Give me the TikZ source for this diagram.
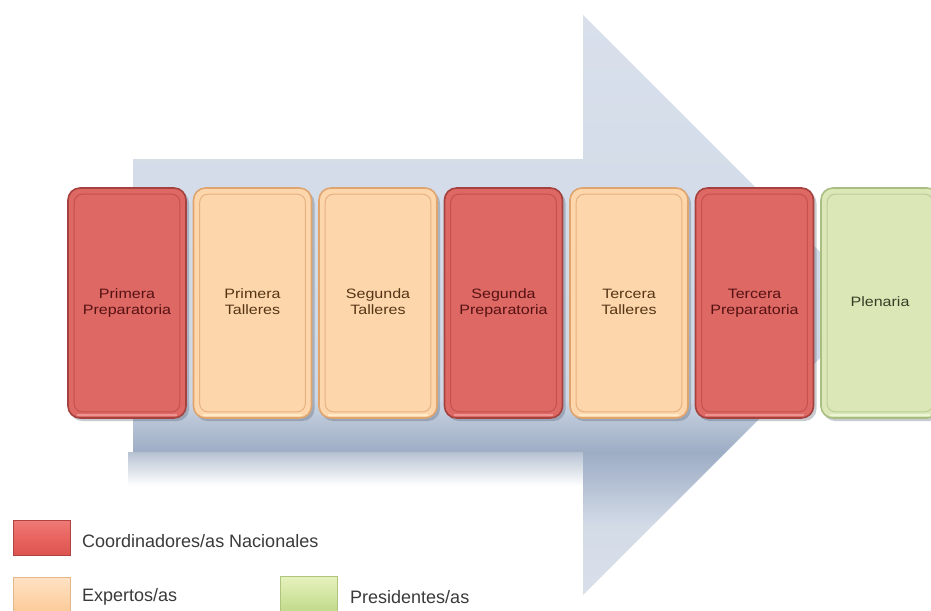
\documentclass[tikz,border=0pt]{standalone}
\usepackage{fontspec}
\setmainfont{Liberation Sans}
\usepackage{graphicx}
\usetikzlibrary{calc}
\definecolor{a1}{HTML}{D9E0EC}
\definecolor{a2}{HTML}{CED7E5}
\definecolor{a3}{HTML}{B3C0D3}
\definecolor{a4}{HTML}{9DADC4}
\definecolor{a5}{HTML}{B0BDD1}
\definecolor{a6}{HTML}{D3DBE7}
\definecolor{shadowc}{HTML}{B7C2D2}
\definecolor{boxshadow}{HTML}{4A5566}
\definecolor{cRedFill}{HTML}{DE6864}
\definecolor{cRedLine}{HTML}{A5423F}
\definecolor{cRedIn}{HTML}{C4524F}
\definecolor{cRedTxt}{HTML}{551212}
\definecolor{cPeachFill}{HTML}{FDD6AC}
\definecolor{cPeachLine}{HTML}{DFA56E}
\definecolor{cPeachIn}{HTML}{E6B281}
\definecolor{cPeachTxt}{HTML}{553514}
\definecolor{cGreenFill}{HTML}{DCE7B8}
\definecolor{cGreenLine}{HTML}{A9BE82}
\definecolor{cGreenIn}{HTML}{BCCD96}
\definecolor{cGreenTxt}{HTML}{363E24}
\definecolor{cRedHi}{HTML}{EE9490}
\definecolor{cPeachHi}{HTML}{FFEBC8}
\definecolor{cGreenHi}{HTML}{EEF5D6}
\definecolor{legtxt}{HTML}{3A3A3A}
\definecolor{sRedT}{HTML}{EE7A76}
\definecolor{sRedM}{HTML}{E8645F}
\definecolor{sRedB}{HTML}{DC5450}
\definecolor{sPeachT}{HTML}{FFE2C4}
\definecolor{sPeachB}{HTML}{FCCB98}
\definecolor{sGreenT}{HTML}{E6F2BE}
\definecolor{sGreenB}{HTML}{C2DA8A}
\pgfdeclareverticalshading{arrowsh}{100bp}{%
  color(0bp)=(a1); color(25bp)=(a1); color(31bp)=(a6); color(35bp)=(a5);
  color(37.3bp)=(a4); color(39.5bp)=(a3); color(42bp)=(a2); color(75bp)=(a1); color(100bp)=(a1)}
\newcommand\bt[1]{\scalebox{1.18}[1]{\begin{tabular}{@{}c@{}}#1\end{tabular}}}
\tikzset{
  box/.style={rounded corners=12pt, minimum width=118pt, minimum height=230pt,
    line width=1.6pt, inner sep=0pt, align=center,
    font=\fontsize{13.6}{16}\selectfont},
  redbox/.style={box, draw=cRedLine, fill=cRedFill, text=cRedTxt},
  peachbox/.style={box, draw=cPeachLine, fill=cPeachFill, text=cPeachTxt},
  greenbox/.style={box, draw=cGreenLine, fill=cGreenFill, text=cGreenTxt},
  shadowbox/.style={rounded corners=12pt, fill=boxshadow, opacity=0.3},
  legtext/.style={anchor=west, inner sep=0pt, font=\fontsize{18}{20}\selectfont, text=legtxt},
  swatch/.style={minimum width=57pt, minimum height=35pt, inner sep=0pt, anchor=north west}
}
\begin{document}
\begin{tikzpicture}[x=1pt,y=-1pt]
\useasboundingbox (0,0) rectangle (931,610);
\clip (0,0) rectangle (931,610);
\fill[white] (0,0) rectangle (931,610);
% shadow under the shaft
\shade[top color=shadowc, bottom color=white] (128,452) rectangle (583,486);
% arrow
\shade[shading=arrowsh] (133,159) -- (583,159) -- (583,15) -- (873,305)
  -- (583,595) -- (583,452) -- (133,452) -- cycle;
% boxes
\foreach \x in {127,252.5,378,503.5,629,754.5,880}
  \fill[shadowbox] (\x-57,191) rectangle (\x+62,421);
\node[redbox]   (b1) at (127,303) {\bt{Primera\\Preparatoria}};
\node[peachbox] (b2) at (252.5,303) {\bt{Primera\\Talleres}};
\node[peachbox] (b3) at (378,303) {\bt{Segunda\\Talleres}};
\node[redbox]   (b4) at (503.5,303) {\bt{Segunda\\Preparatoria}};
\node[peachbox] (b5) at (629,303) {\bt{Tercera\\Talleres}};
\node[redbox]   (b6) at (754.5,303) {\bt{Tercera\\Preparatoria}};
\node[greenbox] (b7) at (880,303) {\bt{Plenaria}};
% inner bevels
\foreach \n/\c/\h in {b1/cRedIn/cRedHi,b2/cPeachIn/cPeachHi,b3/cPeachIn/cPeachHi,b4/cRedIn/cRedHi,b5/cPeachIn/cPeachHi,b6/cRedIn/cRedHi,b7/cGreenIn/cGreenHi}{
  \draw[color=\h, line width=2pt] ([shift={(10,-4)}]\n.south west) -- ([shift={(-10,-4)}]\n.south east);
  \draw[color=\c, line width=1pt, rounded corners=8pt] ([shift={(7,7)}]\n.north west) rectangle ([shift={(-7,-7)}]\n.south east);
}
% legend
\node[swatch, top color=sRedT, bottom color=sRedB, middle color=sRedM, draw=sRedB!80!black] (s1) at (13,520) {};
\node[legtext] (l1) at (82,541) {Coordinadores/as Nacionales};
\node[swatch, top color=sPeachT, bottom color=sPeachB, draw=sPeachB!90!black] (s2) at (13,577) {};
\node[legtext] (l2) at (82,597) {Expertos/as};
\node[swatch, top color=sGreenT, bottom color=sGreenB, draw=sGreenB!90!black] (s3) at (280,576) {};
\node[legtext] (l3) at (350,597) {Presidentes/as};
\end{tikzpicture}
\end{document}
